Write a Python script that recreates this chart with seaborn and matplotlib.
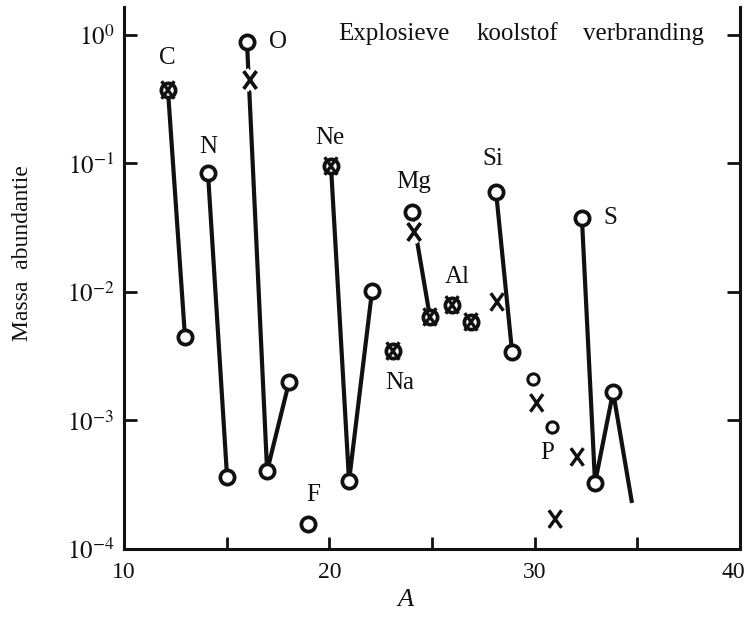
import numpy as np
import pandas as pd
import matplotlib
matplotlib.use("Agg")
import matplotlib.pyplot as plt
import matplotlib.transforms as mtrans
import seaborn as sns
from matplotlib.path import Path
import matplotlib.patheffects as pe
from matplotlib.ticker import FixedLocator, FixedFormatter, NullLocator

# ---------------- data ----------------
# observed (solar) abundances - open circles
obs_A = [12.14, 12.97, 14.09, 15.02, 15.99, 16.97, 18.04, 18.96, 20.08, 20.96,
         22.08, 23.10, 24.03, 24.90, 25.98, 26.90, 28.12, 28.90, 29.92, 30.85,
         32.30, 32.94, 33.82]
obs_val = [0.373, 4.47e-3, 0.0843, 3.63e-4, 0.88, 4.05e-4, 2.0e-3, 1.57e-4,
           0.0955, 3.38e-4, 0.0102, 3.47e-3, 0.042, 6.39e-3, 7.93e-3, 5.85e-3,
           0.060, 3.41e-3, 2.1e-3, 8.9e-4, 0.0377, 3.27e-4, 1.67e-3]
obs_elem = ['C', 'C', 'N', 'N', 'O', 'O', 'O', 'F', 'Ne', 'Ne', 'Ne', 'Na',
            'Mg', 'Mg', 'Mg', 'Al', 'Si', 'Si', 'Si', 'P', 'S', 'S', 'S']
obs_line = ['C', 'C', 'N', 'N', 'O', 'O', 'O', '', 'Ne', 'Ne', 'Ne', '',
            'Mg', 'Mg', '', '', 'Si', 'Si', '', '', 'S', 'S', 'S']
# end of the S line (no marker)
tail_A = [34.74]
tail_val = [2.28e-4]
tail_line = ['S']

# calculated abundances (explosive carbon burning) - crosses
calc_A = [12.14, 16.14, 20.08, 23.10, 24.13, 24.90, 25.98, 26.90, 28.17,
          30.10, 31.00, 32.07]
calc_val = [0.373, 0.446, 0.0955, 3.47e-3, 0.0293, 6.39e-3, 7.93e-3, 5.85e-3,
            8.36e-3, 1.37e-3, 1.71e-4, 5.2e-4]
calc_elem = ['C', 'O', 'Ne', 'Na', 'Mg', 'Mg', 'Mg', 'Al', 'Si', 'Si', 'P', 'S']

elem_labels = ['C', 'N', 'O', 'F', 'Ne', 'Na', 'Mg', 'Al', 'Si', 'P', 'S']
title_words = ['Explosieve', 'koolstof', 'verbranding']
y_title = 'Massa  abundantie'
x_title = 'A'
y_ticks = [1e-4, 1e-3, 1e-2, 1e-1, 1e0]
y_ticklabels = [r'$10^{-4}$', r'$10^{-3}$', r'$10^{-2}$', r'$10^{-1}$', r'$10^{0}$']
x_ticks = [10, 20, 30, 40]
x_minor_ticks = [15, 25, 35]

# ---------------- style ----------------
sns.set_style("white")
plt.rcParams['font.family'] = ['Liberation Serif', 'DejaVu Serif']
plt.rcParams['mathtext.fontset'] = 'stix'

fig = plt.figure(figsize=(7.5, 6.21), dpi=100)
ax = fig.add_axes([124 / 750, 1 - 549 / 621, 616 / 750, 542 / 621])

obs = pd.DataFrame({'A': obs_A, 'val': obs_val, 'elem': obs_elem, 'line': obs_line})
lines = pd.concat([
    obs[obs['line'] != ''][['A', 'val', 'line']],
    pd.DataFrame({'A': tail_A, 'val': tail_val, 'line': tail_line}),
], ignore_index=True)
calc = pd.DataFrame({'A': calc_A, 'val': calc_val, 'elem': calc_elem})

ax.set_yscale('log')

# connecting lines per element
sns.lineplot(data=lines, x='A', y='val', units='line', estimator=None, sort=False,
             color='#111111', linewidth=3.0, solid_capstyle='butt', ax=ax,
             legend=False, zorder=2)

# open circles
small_idx = [18, 19]
big_idx = [i for i in range(len(obs)) if i not in small_idx]
sns.scatterplot(data=obs.iloc[big_idx], x='A', y='val', marker='o', s=105,
                facecolor='white', edgecolor='#111111', linewidth=2.7, ax=ax,
                legend=False, zorder=5)
sns.scatterplot(data=obs.iloc[small_idx], x='A', y='val', marker='o', s=65,
                facecolor='white', edgecolor='#111111', linewidth=2.2, ax=ax,
                legend=False, zorder=5)

# crosses
xpath = Path([(-0.36, -0.5), (0.36, 0.5), (-0.36, 0.5), (0.36, -0.5)],
             [Path.MOVETO, Path.LINETO, Path.MOVETO, Path.LINETO])
halo_idx = [1, 4]          # O-16 and Mg-24 crosses sit on the element line
plain_idx = [i for i in range(len(calc)) if i not in halo_idx]

sns.scatterplot(data=calc.iloc[plain_idx], x='A', y='val', marker=xpath, s=160,
                facecolor='none', edgecolor='#111111', linewidth=2.4, ax=ax,
                legend=False, zorder=6)
sns.scatterplot(data=calc.iloc[halo_idx], x='A', y='val', marker=xpath, s=160,
                facecolor='none', edgecolor='#111111', linewidth=2.4, ax=ax,
                legend=False, zorder=4)
ax.collections[-1].set_path_effects([pe.withStroke(linewidth=8, foreground='white'),
                                     pe.Normal()])

# element labels
label_pos = {'C': (12.09, 0.66), 'N': (14.09, 0.134), 'O': (17.5, 0.88),
             'F': (19.2, 2.63e-4), 'Ne': (20.03, 0.158), 'Na': (23.44, 1.96e-3),
             'Mg': (24.13, 0.0718), 'Al': (26.22, 0.0131), 'Si': (27.97, 0.108),
             'P': (30.6, 5.58e-4), 'S': (33.67, 0.0377)}
for lab in elem_labels:
    x, y = label_pos[lab]
    ax.text(x, y, lab, ha='center', va='center', fontsize=18, color='#111111',
            zorder=7)

# axes
ax.set_xlim(10, 40)
ax.set_ylim(1e-4, 1.65)
ax.yaxis.set_major_locator(FixedLocator(y_ticks))
ax.yaxis.set_major_formatter(FixedFormatter(y_ticklabels))
ax.yaxis.set_minor_locator(NullLocator())
ax.xaxis.set_major_locator(FixedLocator(x_ticks))
ax.xaxis.set_minor_locator(FixedLocator(x_minor_ticks))
ax.tick_params(axis='y', which='major', direction='in', length=9.5, width=2.0,
               left=True, right=True, labelsize=18, pad=7, colors='#111111')
ax.tick_params(axis='x', which='both', direction='in', length=9, width=2.0,
               bottom=True, top=False, labelsize=17, pad=9, colors='#111111')
ax.set_xlabel('')
ax.set_ylabel('')
ax.spines['top'].set_visible(False)
for s in ['left', 'right', 'bottom']:
    ax.spines[s].set_linewidth(2.2)
    ax.spines[s].set_color('#111111')

# keep the last x tick label ("40") inside the figure, as in the reference
fig.canvas.draw()
last = ax.xaxis.get_major_ticks()[-1].label1
last.set_transform(last.get_transform() +
                   mtrans.ScaledTranslation(-7 / 100, 0, fig.dpi_scale_trans))

# title words
for word, xpx in zip(title_words, [338, 477, 583]):
    fig.text(xpx / 750, 1 - 40 / 621, word, ha='left', va='baseline',
             fontsize=18, color='#111111')

fig.text(23 / 750, 1 - 253 / 621, y_title, rotation=90, ha='center', va='center',
         fontsize=17, color='#111111')
fig.text(405 / 750, 1 - 600 / 621, x_title, style='italic', ha='center',
         va='center', fontsize=19, color='#111111')

fig.savefig('out.png', dpi=100)
